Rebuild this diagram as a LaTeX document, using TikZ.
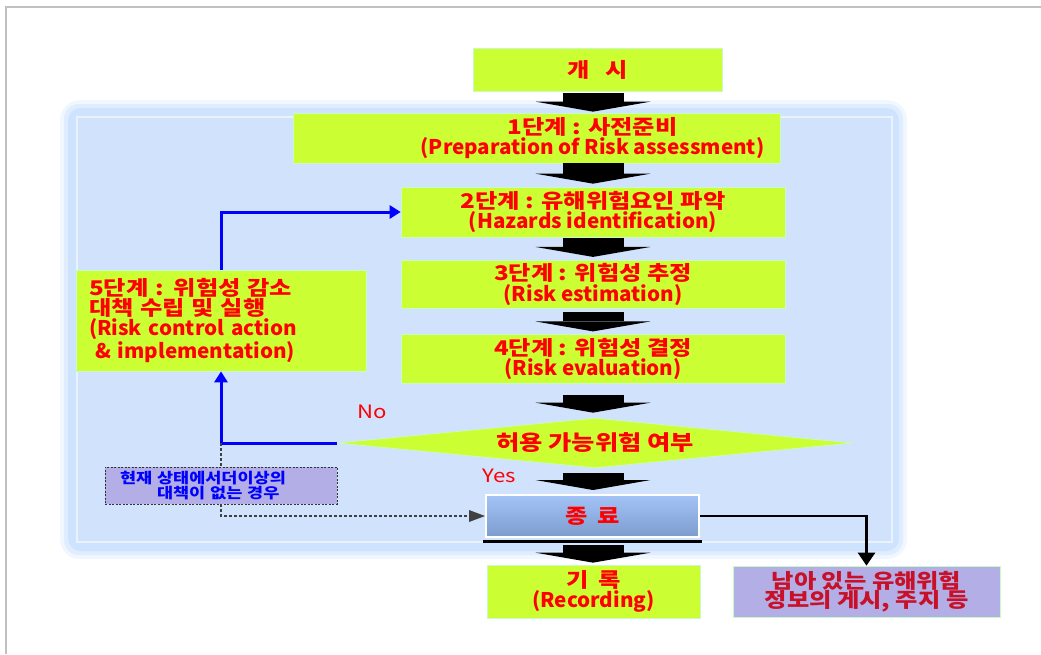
\documentclass[tikz,border=0pt]{standalone}
\usepackage{fontspec}
\newfontfamily\kfont{Noto Sans CJK KR}[FakeStretch=1.2]
\newfontfamily\efont{Noto Sans CJK KR}[FakeStretch=1.02]
\newcommand{\engl}[1]{{\efont #1}}
\usetikzlibrary{arrows.meta,shapes.geometric,positioning}

\definecolor{stepgreen}{RGB}{204,255,51}
\definecolor{edgegreen}{RGB}{200,250,200}
\definecolor{panelblue}{RGB}{208,226,252}
\definecolor{glowblue}{RGB}{196,222,254}
\definecolor{lavender}{RGB}{179,174,230}
\definecolor{darkred}{RGB}{200,16,40}
\definecolor{endtop}{RGB}{164,196,248}
\definecolor{endbottom}{RGB}{124,156,206}
\definecolor{framegray}{RGB}{192,192,192}

\begin{document}
\begin{tikzpicture}[x=0.02cm, y=-0.02cm, font=\kfont\bfseries]
    \tikzstyle{stepbox}=[draw=edgegreen, fill=stepgreen, text=red, inner sep=0pt, align=center, font=\kfont\bfseries\fontsize{11.5}{10.5}\selectfont]
    \tikzstyle{bigarrow}=[black, line width=1.22cm, -{Triangle[width=2.3cm, length=0.2cm, line width=0pt]}]
    \tikzstyle{loopline}=[blue, line width=0.06cm, -{Triangle[width=0.26cm, length=0.22cm]}]
    \tikzstyle{notebox}=[fill=lavender, draw=black!80, dash pattern=on 0.04cm off 0.03cm, text=blue, inner xsep=0.3cm, inner ysep=0pt, align=left, font=\kfont\bfseries\fontsize{8.3}{9}\selectfont]
    \useasboundingbox (0,0) rectangle (1041,654);

    % page frame
    \draw[framegray, line width=0.04cm] (6,654) -- (6,7) -- (1041,7);

    % blue panel with glow
    \fill[glowblue!25, rounded corners=0.4cm] (60,100) rectangle (907,559);
    \fill[glowblue!55, rounded corners=0.3cm] (64,104) rectangle (903,555);
    \fill[glowblue!85, rounded corners=0.25cm] (68,108) rectangle (899,551);
    \filldraw[fill=panelblue, draw=white!55!panelblue, line width=0.04cm] (77,117) rectangle (892,542);

    % boxes
    \node[stepbox, minimum width=4.98cm, minimum height=0.86cm] (start) at (597.5, 69.5) {개\hspace{0.8em}시};
    \node[stepbox, minimum width=9.74cm, minimum height=1.0cm] (s1) at (536.5, 138) {\hspace*{2.24cm}1단계 : 사전준비\\\hspace*{2.24cm}\engl{(Preparation of Risk assessment)}};
    \node[stepbox, minimum width=7.68cm, minimum height=1.0cm] (s2) at (593, 212) {2단계 : 유해위험요인 파악\\\engl{(Hazards identification)}};
    \node[stepbox, minimum width=7.68cm, minimum height=0.97cm] (s3) at (593, 284.5) {3단계 : 위험성 추정\\\engl{(Risk estimation)}};
    \node[stepbox, minimum width=7.68cm, minimum height=0.97cm] (s4) at (593, 359) {4단계 : 위험성 결정\\\engl{(Risk evaluation)}};
    \node[stepbox, minimum width=5.8cm, minimum height=2.02cm, inner xsep=0.26cm, text width=5.28cm, align=left, font=\kfont\bfseries\fontsize{11.5}{11.2}\selectfont] (s5) at (221, 320.5) {5단계 : 위험성 감소\\대책 수립 및 실행\\\engl{(Risk control action}\\\engl{\hspace{0.3em}\& implementation)}};
    \node[stepbox, diamond, aspect=10, minimum width=10.32cm, minimum height=1.0cm, font=\kfont\bfseries\fontsize{12}{11}\selectfont] (dia) at (595, 443) {허용 가능위험 여부};
    \node[draw=white, line width=0.04cm, top color=endtop, bottom color=endbottom, text=red, inner sep=0pt, minimum width=4.26cm, minimum height=0.84cm, font=\kfont\bfseries\fontsize{11.5}{10.5}\selectfont] (end) at (592.5, 516) {종\hspace{0.5em}료};
    \node[stepbox, minimum width=4.26cm, minimum height=1.06cm] (rec) at (593.5, 591.5) {기\hspace{0.5em}록\\\engl{(Recording)}};
    \node[stepbox, fill=lavender, text=darkred, minimum width=5.34cm, minimum height=1.02cm, font=\kfont\bfseries\fontsize{11.5}{11}\selectfont] (info) at (866.5, 591.5) {남아 있는 유해위험\\정보의 게시, 주지 등};
    \node[notebox, minimum width=4.64cm, minimum height=0.74cm, text width=4.04cm] (note) at (221, 485.5) {현재 상태에서더이상의\\\hspace{0.74cm}대책이 없는 경우};

    % labels
    \node[text=red, font=\kfont\fontsize{10.5}{10.5}\selectfont] (no) at (372, 412) {No};
    \node[text=red, font=\kfont\fontsize{10.5}{10.5}\selectfont] (yes) at (499, 476) {Yes};

    % shadow under end box
    \draw[black, line width=0.05cm] ([xshift=-0.04cm, yshift=-0.07cm]end.south west) -- ([xshift=0.04cm, yshift=-0.07cm]end.south east);

    % block arrows
    \draw[bigarrow, shorten <=0.04cm, shorten >=0.02cm] (start.south -| s2) -- (s1.north -| s2);
    \draw[bigarrow, shorten >=0.06cm] (s1.south -| s2) -- (s2.north);
    \draw[bigarrow, shorten <=0.02cm, shorten >=0.06cm] (s2.south) -- (s3.north);
    \draw[bigarrow, shorten <=0.06cm, shorten >=0.06cm] (s3.south) -- (s4.north);
    \draw[bigarrow, shorten <=0.22cm, shorten >=0.1cm] (s4.south) -- (dia.north -| s4);
    \draw[bigarrow, shorten <=0.1cm, shorten >=0.08cm] (dia.south -| s4) -- (end.north -| s4);
    \draw[bigarrow, shorten <=0.14cm, shorten >=0.04cm] (end.south -| s4) -- (rec.north -| s4);

    % connectors
    \draw[loopline] (dia.west) -| (s5.south);
    \draw[loopline] (s5.north) |- (s2.west);
    \draw[black, line width=0.05cm, -{Triangle[width=0.34cm, length=0.26cm]}] (end.east) -| (info.north);
    \draw[black!75, line width=0.025cm, dash pattern=on 0.06cm off 0.04cm] (note.north |- dia.west) -- (note.north);
    \draw[black!75, line width=0.025cm, dash pattern=on 0.06cm off 0.04cm, -{Triangle[width=0.24cm, length=0.32cm, line width=0pt]}] (note.south) |- (end.west);
\end{tikzpicture}
\end{document}
